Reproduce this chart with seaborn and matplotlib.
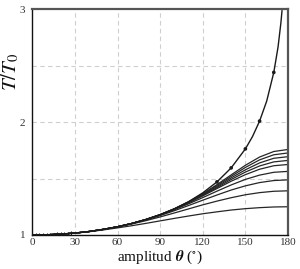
import numpy as np
import pandas as pd
import matplotlib
matplotlib.use("Agg")
import matplotlib.pyplot as plt
import seaborn as sns
from matplotlib.ticker import MultipleLocator

# ---- data ----
theta = [0, 10, 20, 30, 40, 50, 60, 70, 80, 90, 100, 110, 120, 130, 140, 150, 160, 170, 180]

approx1 = [1.000, 1.002, 1.008, 1.017, 1.029, 1.045, 1.063, 1.082, 1.103, 1.125, 1.147, 1.168, 1.188, 1.205, 1.221, 1.233, 1.242, 1.248, 1.250]
approx2 = [1.000, 1.002, 1.008, 1.017, 1.031, 1.049, 1.071, 1.097, 1.127, 1.160, 1.195, 1.231, 1.267, 1.300, 1.330, 1.356, 1.375, 1.387, 1.391]
approx3 = [1.000, 1.002, 1.008, 1.017, 1.031, 1.050, 1.073, 1.101, 1.134, 1.172, 1.215, 1.261, 1.308, 1.354, 1.398, 1.435, 1.464, 1.482, 1.488]
approx4 = [1.000, 1.002, 1.008, 1.017, 1.031, 1.050, 1.073, 1.102, 1.136, 1.177, 1.224, 1.276, 1.331, 1.388, 1.443, 1.492, 1.530, 1.555, 1.563]
approx5 = [1.000, 1.002, 1.008, 1.017, 1.031, 1.050, 1.073, 1.102, 1.137, 1.179, 1.228, 1.284, 1.346, 1.411, 1.476, 1.534, 1.582, 1.613, 1.624]
approx6 = [1.000, 1.002, 1.008, 1.017, 1.031, 1.050, 1.073, 1.102, 1.137, 1.179, 1.229, 1.286, 1.351, 1.420, 1.491, 1.557, 1.611, 1.647, 1.660]
approx7 = [1.000, 1.002, 1.008, 1.017, 1.031, 1.050, 1.073, 1.102, 1.137, 1.180, 1.230, 1.289, 1.356, 1.429, 1.505, 1.577, 1.638, 1.679, 1.693]
approx8 = [1.000, 1.002, 1.008, 1.017, 1.031, 1.050, 1.073, 1.102, 1.137, 1.180, 1.231, 1.291, 1.360, 1.438, 1.519, 1.598, 1.665, 1.710, 1.726]
approx9 = [1.000, 1.002, 1.008, 1.017, 1.031, 1.050, 1.073, 1.102, 1.137, 1.180, 1.232, 1.293, 1.365, 1.446, 1.532, 1.617, 1.690, 1.739, 1.757]
approx_series = [approx1, approx2, approx3, approx4, approx5, approx6, approx7, approx8, approx9]

exact_theta = [0, 10, 20, 30, 40, 50, 60, 70, 80, 90, 100, 110, 120, 130, 140, 150, 155, 160, 165, 170, 173, 175, 175.8]
exact_T = [1.000, 1.002, 1.008, 1.017, 1.031, 1.050, 1.073, 1.102, 1.138, 1.180, 1.232, 1.295, 1.373, 1.470, 1.594, 1.762, 1.871, 2.008, 2.185, 2.439, 2.664, 2.878, 2.987]

dot_theta = [130, 140, 150, 160, 170]
dot_T = [1.470, 1.594, 1.762, 2.008, 2.439]

tick_theta = [0, 2.5, 5, 7.5, 10, 12.5, 15, 17.5, 20, 22.5, 25, 27.5]
tick_T = [1.000, 1.0001, 1.0005, 1.0011, 1.0019, 1.003, 1.0043, 1.0058, 1.0077, 1.0097, 1.012, 1.0145]

x_ticks = [0, 30, 60, 90, 120, 150, 180]
y_ticks = [1, 2, 3]

# ---- long-form table ----
rows = []
for i, s in enumerate(approx_series):
    for t, v in zip(theta, s):
        rows.append({"theta": t, "T": v, "curve": f"a{i+1}"})
df = pd.DataFrame(rows)
df_exact = pd.DataFrame({"theta": exact_theta, "T": exact_T})

sns.set_style("white")
plt.rcParams["mathtext.fontset"] = "stix"
plt.rcParams["font.family"] = ["Liberation Serif", "DejaVu Serif"]

fig = plt.figure(figsize=(3.0, 2.69), dpi=100)
ax = fig.add_axes([0.1077, 0.1264, 0.8523, 0.8401])

ax.grid(False)
for gx in [30, 60, 90, 120, 150]:
    ax.axvline(gx, color="#cfcfcf", lw=0.8, ls=(0, (4, 3)), zorder=0)
for gy in [1.5, 2.0, 2.5]:
    ax.axhline(gy, color="#cfcfcf", lw=0.8, ls=(0, (4, 3)), zorder=0)

sns.lineplot(data=df, x="theta", y="T", units="curve", estimator=None,
             color="#262626", lw=0.9, ax=ax, legend=False)
sns.lineplot(data=df_exact, x="theta", y="T", color="#1a1a1a", lw=1.0,
             ax=ax, legend=False, sort=False)
sns.scatterplot(x=dot_theta, y=dot_T, color="#1a1a1a", s=7, marker="o",
                edgecolor="none", ax=ax, zorder=5)
sns.scatterplot(x=tick_theta, y=tick_T, color="#1a1a1a", s=6, marker="|",
                linewidth=0.8, ax=ax, zorder=5)

ax.set_xlim(0, 180)
ax.set_ylim(1, 3)
ax.set_xticks(x_ticks)
ax.set_xticklabels([str(v) for v in x_ticks])
ax.set_yticks(y_ticks)
ax.set_yticklabels([str(v) for v in y_ticks])
ax.xaxis.set_minor_locator(MultipleLocator(10))
ax.yaxis.set_minor_locator(MultipleLocator(0.1))

ax.tick_params(axis="x", which="major", direction="in", length=4, width=0.8,
               pad=2, labelsize=8, labelcolor="#333333", color="#222222")
ax.tick_params(axis="x", which="minor", direction="in", length=2.5, width=0.7,
               color="#222222")
ax.tick_params(axis="y", which="major", direction="out", length=4, width=0.8,
               pad=1, labelsize=8, labelcolor="#333333", color="#222222")
ax.tick_params(axis="y", which="minor", direction="out", length=2.5, width=0.7,
               color="#222222")

for side in ["left", "bottom"]:
    ax.spines[side].set_color("#111111")
    ax.spines[side].set_linewidth(1.0)
for side in ["top", "right"]:
    ax.spines[side].set_color("#555555")
    ax.spines[side].set_linewidth(1.6)

ax.set_xlabel(r"amplitud $\boldsymbol{\theta}$ ($^{\circ}$)", fontsize=11,
              color="#111111", labelpad=1)
ax.set_ylabel(r"$T/T_0$", fontsize=15, color="#111111")
ax.yaxis.set_label_coords(-0.045, 0.72)

fig.savefig("out.png", dpi=100)
